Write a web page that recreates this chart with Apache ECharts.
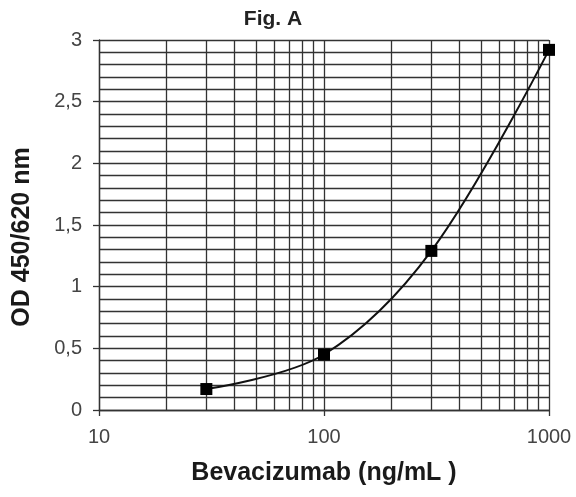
<!DOCTYPE html>
<html><head><meta charset="utf-8">
<script src="https://cdn.jsdelivr.net/npm/echarts@6/dist/echarts.min.js"></script>
<style>html,body{margin:0;padding:0;background:#fff}#c{width:576px;height:497px}</style>
</head><body><div id="c"></div>
<script>
var concentrations = [30, 100, 300, 1000];
var odValues = [0.17, 0.45, 1.29, 2.92];
var minorXGrid = [20, 30, 40, 50, 60, 70, 80, 90, 200, 300, 400, 500, 600, 700, 800, 900];
var titleText = 'Fig. A';
var xName = 'Bevacizumab (ng/mL )';
var yName = 'OD 450/620 nm';

var font = 'Liberation Sans, Arial, sans-serif';
var gridColor = '#333';
var chart = echarts.init(document.getElementById('c'), null, {renderer: 'canvas'});
chart.setOption({
  animation: false,
  title: {text: titleText, left: 268, top: 4, textAlign: 'center',
    textStyle: {fontFamily: font, fontSize: 21, fontWeight: 'bold', color: '#222'}},
  grid: {left: 99, right: 27, top: 40, bottom: 87},
  xAxis: {
    type: 'log', logBase: 10, min: 10, max: 1000,
    name: xName, nameLocation: 'middle', nameGap: 51,
    nameTextStyle: {fontFamily: font, fontSize: 25, fontWeight: 'bold', color: '#1a1a1a'},
    axisLine: {show: true, lineStyle: {color: gridColor, width: 1.3}},
    axisTick: {show: true, length: 6, lineStyle: {color: gridColor, width: 1.3}},
    axisLabel: {fontFamily: font, fontSize: 20, color: '#444', margin: 17,
      formatter: function (v) { return String(v); }},
    splitLine: {show: true, lineStyle: {color: gridColor, width: 1.3}},
    minorTick: {show: false}, minorSplitLine: {show: false}
  },
  yAxis: {
    type: 'value', min: 0, max: 3, interval: 0.5,
    name: yName, nameLocation: 'middle', nameGap: 64,
    nameTextStyle: {fontFamily: font, fontSize: 25, fontWeight: 'bold', color: '#1a1a1a',
      padding: [0, 24, 0, 0]},
    axisLine: {show: true, lineStyle: {color: gridColor, width: 1.3}},
    axisTick: {show: true, length: 6, lineStyle: {color: gridColor, width: 1.3}},
    axisLabel: {fontFamily: font, fontSize: 20, color: '#444', margin: 17,
      formatter: function (v) { return String(v).replace('.', ','); }},
    splitLine: {show: true, lineStyle: {color: gridColor, width: 1.3}},
    minorTick: {show: false, splitNumber: 5},
    minorSplitLine: {show: true, lineStyle: {color: gridColor, width: 1.3}}
  },
  series: [{
    type: 'line',
    data: concentrations.map(function (c, i) { return [c, odValues[i]]; }),
    smooth: 0.35,
    symbol: 'rect', symbolSize: 12,
    itemStyle: {color: '#000'},
    lineStyle: {color: '#111', width: 2},
    z: 5,
    markLine: {
      silent: true, symbol: 'none', label: {show: false},
      lineStyle: {color: gridColor, width: 1.3, type: 'solid'},
      data: minorXGrid.map(function (v) { return {xAxis: v}; })
    }
  }]
});
</script></body></html>
